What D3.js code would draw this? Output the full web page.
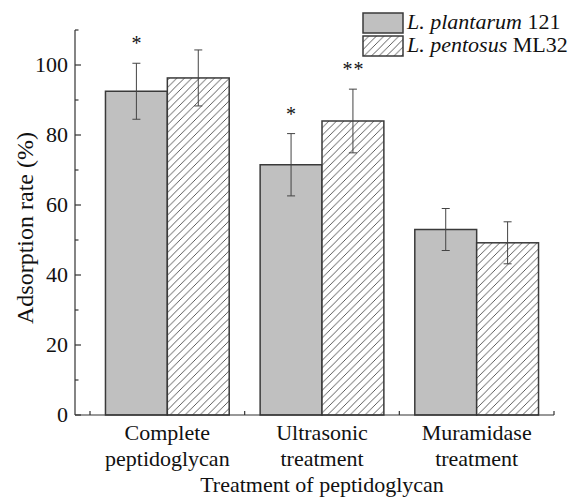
<!doctype html>
<html>
<head>
  <meta charset="utf-8">
  <title>Adsorption rate bar chart</title>
  <script src="https://cdn.jsdelivr.net/npm/d3@7"></script>
  <style>
    html, body { margin: 0; padding: 0; background: #fff; }
    svg { display: block; }
    text { font-family: "Liberation Serif", "Times New Roman", serif; fill: #111; }
  </style>
</head>
<body>
  <div id="chart"></div>

  <script>
    // data
    var categories = [["Complete", "peptidoglycan"], ["Ultrasonic", "treatment"], ["Muramidase", "treatment"]];
    var seriesNames = [["L. plantarum", " 121"], ["L. pentosus", " ML32"]];
    var plantarum = [92.5, 71.5, 53.0];
    var plantarumErr = [8.0, 8.9, 6.0];
    var pentosus = [96.3, 84.0, 49.2];
    var pentosusErr = [8.0, 9.1, 6.0];
    var plantarumSig = ["*", "*", ""];
    var pentosusSig = ["", "**", ""];
    var yTicks = [0, 20, 40, 60, 80, 100];
    var yMinorTicks = [10, 30, 50, 70, 90, 110];

    var width = 582, height = 497;
    var axisX = 75, xStart = 90, xEnd = 554, yTop = 30, yBottom = 415;
    var hs = 7.5; // hatch spacing

    var svg = d3.select('#chart').append('svg')
      .attr('width', width)
      .attr('height', height);

    var pat = svg.append('defs').append('pattern')
      .attr('id', 'hatch')
      .attr('patternUnits', 'userSpaceOnUse')
      .attr('width', hs)
      .attr('height', hs);
    pat.append('rect').attr('width', hs).attr('height', hs).attr('fill', '#fff');
    pat.append('path')
      .attr('d', 'M0,' + hs + ' L' + hs + ',0 M-1,1 L1,-1 M' + (hs - 1) + ',' + (hs + 1) + ' L' + (hs + 1) + ',' + (hs - 1))
      .attr('stroke', '#333')
      .attr('stroke-width', 0.8);

    var x = d3.scaleBand()
      .domain(d3.range(categories.length))
      .range([xStart, xEnd])
      .paddingInner(0.2)
      .paddingOuter(0.1);

    var xSub = d3.scaleBand()
      .domain([0, 1])
      .range([0, x.bandwidth()]);

    var y = d3.scaleLinear().domain([0, 110]).range([yBottom, yTop]);

    var series = [
      { values: plantarum, err: plantarumErr, sig: plantarumSig, fill: '#c0c0c0' },
      { values: pentosus, err: pentosusErr, sig: pentosusSig, fill: 'url(#hatch)' }
    ];

    // bars
    series.forEach(function(s, si) {
      var g = svg.append('g');
      g.selectAll('rect')
        .data(s.values)
        .enter()
        .append('rect')
        .attr('x', function(d, i) { return x(i) + xSub(si); })
        .attr('y', function(d) { return y(d); })
        .attr('width', xSub.bandwidth())
        .attr('height', function(d) { return y(0) - y(d); })
        .attr('fill', s.fill)
        .attr('stroke', '#3a3a3a')
        .attr('stroke-width', 1.5);
    });

    // error bars + significance marks
    series.forEach(function(s, si) {
      var g = svg.append('g').attr('stroke', '#444').attr('stroke-width', 1);
      s.values.forEach(function(d, i) {
        var cx = x(i) + xSub(si) + xSub.bandwidth() / 2;
        var hi = y(d + s.err[i]), lo = y(d - s.err[i]);
        g.append('line').attr('x1', cx).attr('x2', cx).attr('y1', hi).attr('y2', lo);
        g.append('line').attr('x1', cx - 4).attr('x2', cx + 4).attr('y1', hi).attr('y2', hi);
        g.append('line').attr('x1', cx - 4).attr('x2', cx + 4).attr('y1', lo).attr('y2', lo);
        if (s.sig[i]) {
          svg.append('text')
            .attr('x', cx + (s.sig[i].length > 1 ? 0.5 : 0))
            .attr('y', hi - 13)
            .attr('text-anchor', 'middle')
            .attr('font-size', '20px')
            .attr('letter-spacing', s.sig[i].length > 1 ? '1px' : null)
            .text(s.sig[i]);
        }
      });
    });

    // y axis
    var ya = svg.append('g').attr('stroke', '#333').attr('stroke-width', 1.2);
    ya.append('line').attr('x1', axisX).attr('x2', axisX).attr('y1', yTop).attr('y2', yBottom);
    ya.selectAll('.major').data(yTicks).enter().append('line')
      .attr('x1', axisX).attr('x2', axisX + 6)
      .attr('y1', function(d) { return y(d); })
      .attr('y2', function(d) { return y(d); });
    ya.selectAll('.minor').data(yMinorTicks).enter().append('line')
      .attr('x1', axisX).attr('x2', axisX + 3.5)
      .attr('y1', function(d) { return y(d); })
      .attr('y2', function(d) { return y(d); });
    svg.selectAll('.ylab').data(yTicks).enter().append('text')
      .attr('x', axisX - 7)
      .attr('y', function(d) { return y(d) + 7; })
      .attr('text-anchor', 'end')
      .attr('font-size', '22px')
      .text(function(d) { return d; });

    // x axis
    var xa = svg.append('g').attr('stroke', '#333').attr('stroke-width', 1.2);
    xa.append('line').attr('x1', axisX).attr('x2', xEnd).attr('y1', yBottom).attr('y2', yBottom);
    xa.selectAll('.xt').data(d3.range(categories.length + 1)).enter().append('line')
      .attr('x1', function(d) { return xStart + d * x.step(); })
      .attr('x2', function(d) { return xStart + d * x.step(); })
      .attr('y1', yBottom).attr('y2', yBottom - 4);

    categories.forEach(function(c, i) {
      svg.append('text')
        .attr('x', x(i) + x.bandwidth() / 2)
        .attr('y', 440)
        .attr('text-anchor', 'middle')
        .attr('font-size', '22px')
        .text(c[0]);
      svg.append('text')
        .attr('x', x(i) + x.bandwidth() / 2)
        .attr('y', 466)
        .attr('text-anchor', 'middle')
        .attr('font-size', '22px')
        .text(c[1]);
    });

    svg.append('text')
      .attr('x', (xStart + xEnd) / 2)
      .attr('y', 492)
      .attr('text-anchor', 'middle')
      .attr('font-size', '22px')
      .text('Treatment of peptidoglycan');

    svg.append('text')
      .attr('transform', 'translate(33,228) rotate(-90)')
      .attr('text-anchor', 'middle')
      .attr('font-size', '24px')
      .text('Adsorption rate (%)');

    // legend
    var legend = svg.append('g');
    series.forEach(function(s, si) {
      var ly = 13 + si * 23;
      legend.append('rect')
        .attr('x', 363).attr('y', ly)
        .attr('width', 40).attr('height', 20)
        .attr('fill', s.fill)
        .attr('stroke', '#3a3a3a')
        .attr('stroke-width', 1.5);
      var t = legend.append('text')
        .attr('x', 407).attr('y', ly + 16)
        .attr('font-size', '22px');
      t.append('tspan').attr('font-style', 'italic').text(seriesNames[si][0]);
      t.append('tspan').text(seriesNames[si][1]);
    });
  </script>
</body>
</html>
